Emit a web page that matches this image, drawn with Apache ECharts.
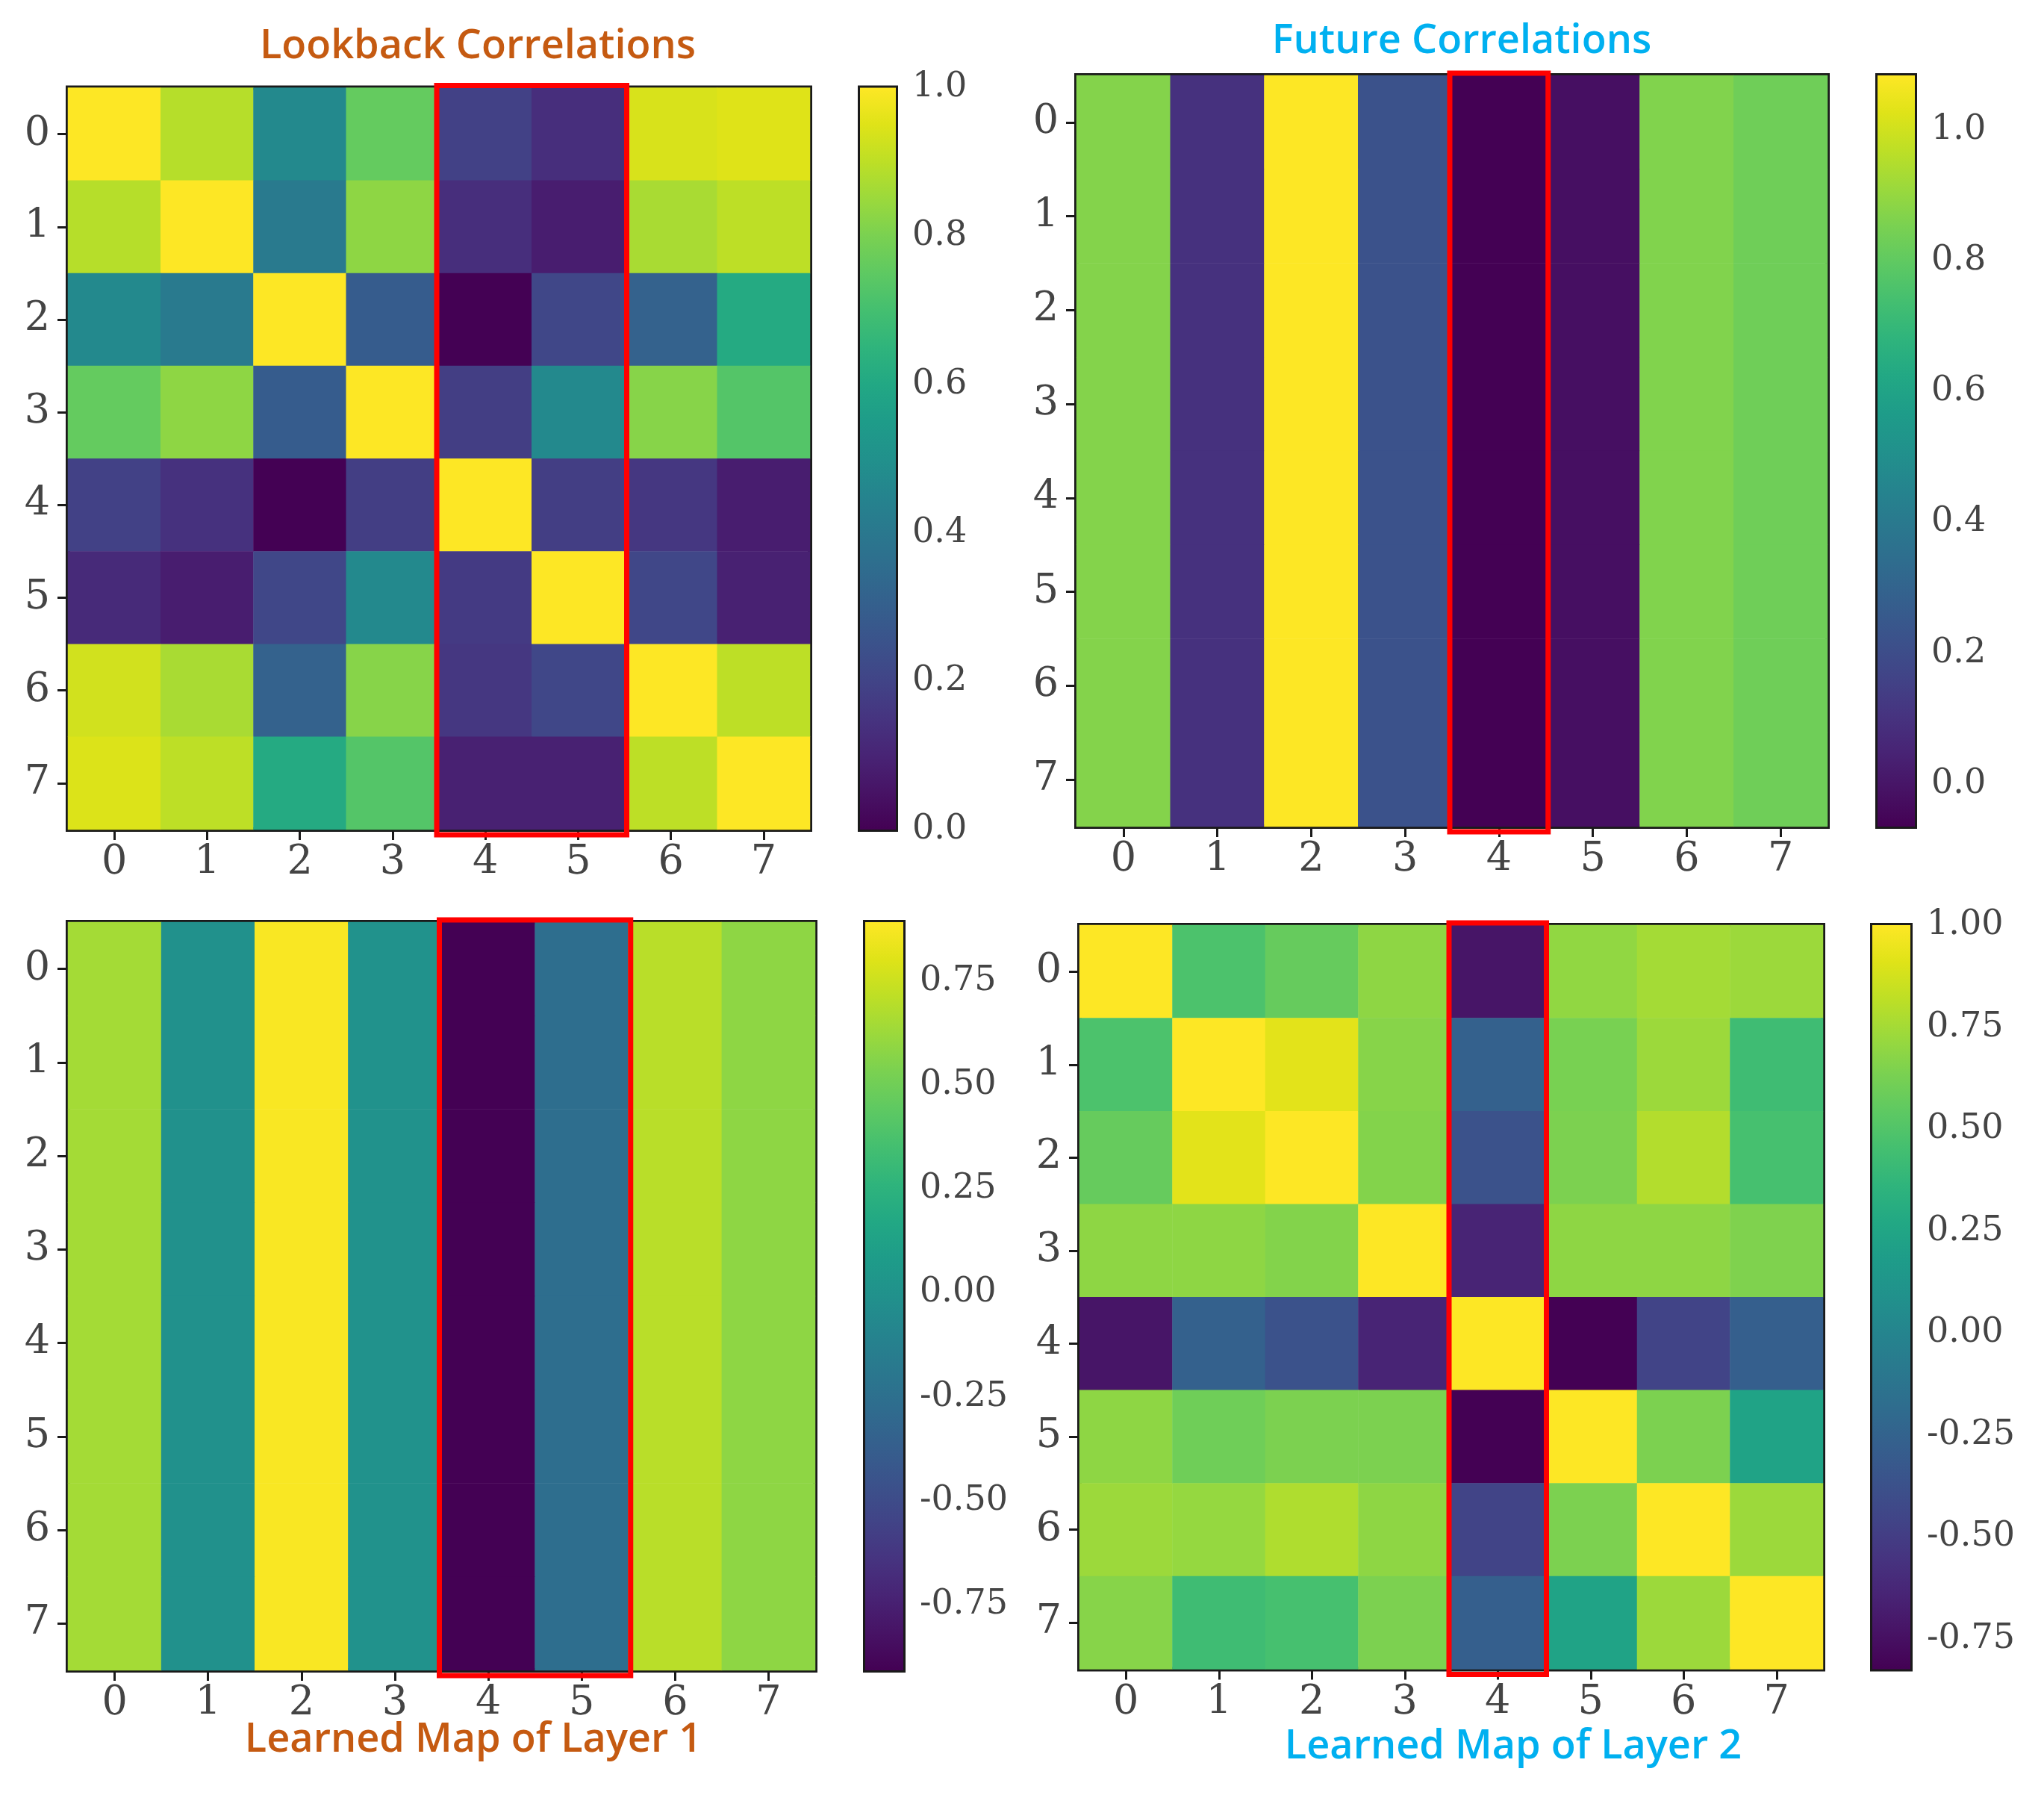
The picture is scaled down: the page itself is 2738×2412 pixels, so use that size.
<!DOCTYPE html>
<html>
<head>
<meta charset="utf-8">
<script src="https://cdn.jsdelivr.net/npm/echarts@6/dist/echarts.min.js"></script>
<style>
html,body{margin:0;padding:0;background:#fff;}
#chart{width:2738px;height:2412px;}
</style>
</head>
<body>
<div id="chart"></div>
<script>
// ---------------- data ----------------
const xCats = ['0','1','2','3','4','5','6','7'];
const yCats = ['0','1','2','3','4','5','6','7'];

const lookback = [
  [1.00, 0.89, 0.47, 0.76, 0.19, 0.13, 0.94, 0.95],
  [0.89, 1.00, 0.41, 0.83, 0.13, 0.08, 0.87, 0.90],
  [0.47, 0.41, 1.00, 0.29, 0.00, 0.21, 0.31, 0.61],
  [0.76, 0.83, 0.29, 1.00, 0.18, 0.47, 0.82, 0.73],
  [0.19, 0.14, 0.00, 0.18, 1.00, 0.18, 0.16, 0.08],
  [0.12, 0.08, 0.21, 0.47, 0.17, 1.00, 0.21, 0.09],
  [0.93, 0.87, 0.31, 0.82, 0.16, 0.21, 1.00, 0.90],
  [0.945, 0.90, 0.61, 0.73, 0.09, 0.09, 0.90, 1.00]
];
const future = [
  [0.87, 0.096, 1.083, 0.222, -0.065, -0.019, 0.865, 0.83],
  [0.87, 0.096, 1.083, 0.222, -0.065, -0.019, 0.865, 0.83],
  [0.87, 0.096, 1.083, 0.222, -0.065, -0.019, 0.865, 0.83],
  [0.87, 0.096, 1.083, 0.222, -0.065, -0.019, 0.865, 0.83],
  [0.87, 0.096, 1.083, 0.222, -0.065, -0.019, 0.865, 0.83],
  [0.87, 0.096, 1.083, 0.222, -0.065, -0.019, 0.865, 0.83],
  [0.87, 0.096, 1.083, 0.222, -0.065, -0.019, 0.865, 0.83],
  [0.87, 0.096, 1.083, 0.222, -0.065, -0.019, 0.865, 0.83]
];
const layer1 = [
  [0.645, -0.01, 0.88, 0.00, -0.907, -0.26, 0.70, 0.585],
  [0.645, -0.01, 0.88, 0.00, -0.907, -0.26, 0.70, 0.585],
  [0.645, -0.01, 0.88, 0.00, -0.907, -0.26, 0.70, 0.585],
  [0.645, -0.01, 0.88, 0.00, -0.907, -0.26, 0.70, 0.585],
  [0.645, -0.01, 0.88, 0.00, -0.907, -0.26, 0.70, 0.585],
  [0.645, -0.01, 0.88, 0.00, -0.907, -0.26, 0.70, 0.585],
  [0.645, -0.01, 0.88, 0.00, -0.907, -0.26, 0.70, 0.585],
  [0.645, -0.01, 0.88, 0.00, -0.907, -0.26, 0.70, 0.585]
];
const layer2 = [
  [1.00, 0.48, 0.57, 0.69, -0.72, 0.70, 0.75, 0.73],
  [0.48, 1.00, 0.92, 0.67, -0.26, 0.63, 0.73, 0.43],
  [0.57, 0.92, 1.00, 0.66, -0.37, 0.64, 0.79, 0.46],
  [0.69, 0.69, 0.66, 1.00, -0.64, 0.69, 0.69, 0.65],
  [-0.72, -0.26, -0.37, -0.64, 1.00, -0.824, -0.46, -0.28],
  [0.69, 0.60, 0.64, 0.64, -0.824, 1.00, 0.64, 0.23],
  [0.73, 0.71, 0.78, 0.69, -0.46, 0.64, 1.00, 0.73],
  [0.67, 0.43, 0.46, 0.64, -0.28, 0.23, 0.73, 1.00]
];

const lookbackRange = [0, 1];
const futureRange = [-0.065, 1.083];
const layer1Range = [-0.907, 0.891];
const layer2Range = [-0.824, 1.0];

const lookbackTicks = [0, 0.2, 0.4, 0.6, 0.8, 1.0];
const futureTicks = [0, 0.2, 0.4, 0.6, 0.8, 1.0];
const layer1Ticks = [-0.75, -0.5, -0.25, 0, 0.25, 0.5, 0.75];
const layer2Ticks = [-0.75, -0.5, -0.25, 0, 0.25, 0.5, 0.75, 1.0];

const lookbackCols = [4, 5];
const futureCols = [4, 4];
const layer1Cols = [4, 5];
const layer2Cols = [4, 4];

const titles = ['Lookback Correlations', 'Future Correlations', 'Learned Map of Layer 1', 'Learned Map of Layer 2'];

const VIRIDIS = ['#440154','#471365','#482475','#463480','#414487','#3b528b','#355f8d','#2f6c8e','#2a788e','#25848e','#21918c','#1e9c89','#22a884','#2fb47c','#44bf70','#5ec962','#7ad151','#9bd93c','#bddf26','#dfe318','#fde725'];

// ---------------- layout ----------------
const panels = [
  {m: lookback, r: lookbackRange, t: lookbackTicks, c: lookbackCols, dec: 1,
   grid: {left: 91, top: 117.5, width: 994, height: 993.5},
   cb: {left: 1152, top: 117.5, width: 48, height: 993.5},
   title: {x: 640, y: 63, color: '#C55A11'}},
  {m: future, r: futureRange, t: futureTicks, c: futureCols, dec: 1,
   grid: {left: 1442, top: 101, width: 1006, height: 1006},
   cb: {left: 2515, top: 101, width: 50, height: 1006},
   title: {x: 1958, y: 56, color: '#00B0F0'}},
  {m: layer1, r: layer1Range, t: layer1Ticks, c: layer1Cols, dec: 2,
   grid: {left: 91, top: 1235, width: 1001, height: 1002},
   cb: {left: 1159, top: 1235, width: 51, height: 1002},
   title: {x: 634, y: 2331, color: '#C55A11'}},
  {m: layer2, r: layer2Range, t: layer2Ticks, c: layer2Cols, dec: 2,
   grid: {left: 1446, top: 1239, width: 996, height: 996.5},
   cb: {left: 2508, top: 1239, width: 51, height: 996.5},
   title: {x: 2027, y: 2340, color: '#00B0F0'}}
];

const TICK_FONT = 'DejaVu Serif';
const LABEL_COLOR = '#444444';
const FRAME = '#1a1a1a';

const grids = [], xAxes = [], yAxes = [], series = [], visualMaps = [], graphics = [];

const stops = VIRIDIS.map((c, i) => ({offset: i / (VIRIDIS.length - 1), color: c}));

panels.forEach((p, k) => {
  const gi = grids.length;
  grids.push(Object.assign({show: true, borderColor: FRAME, borderWidth: 6, backgroundColor: 'transparent', outerBoundsMode: 'none', containLabel: false}, p.grid));
  grids.push(Object.assign({show: true, borderColor: FRAME, borderWidth: 6, backgroundColor: 'transparent', outerBoundsMode: 'none', containLabel: false}, p.cb));

  xAxes.push({
    type: 'category', data: xCats, gridIndex: gi, position: 'bottom',
    axisLine: {show: false},
    axisTick: {show: true, alignWithLabel: true, length: 14, lineStyle: {color: FRAME, width: 3}},
    axisLabel: {fontFamily: TICK_FONT, fontSize: 54, color: LABEL_COLOR, margin: 18},
    splitLine: {show: false}, splitArea: {show: false}
  });
  yAxes.push({
    type: 'category', data: yCats, gridIndex: gi, inverse: true, position: 'left',
    axisLine: {show: false},
    axisTick: {show: true, alignWithLabel: true, length: 14, lineStyle: {color: FRAME, width: 3}},
    axisLabel: {fontFamily: TICK_FONT, fontSize: 54, color: LABEL_COLOR, margin: 24},
    splitLine: {show: false}, splitArea: {show: false}
  });
  xAxes.push({type: 'value', gridIndex: gi + 1, min: 0, max: 1, show: false});
  yAxes.push({
    type: 'value', gridIndex: gi + 1, min: p.r[0], max: p.r[1], position: 'right',
    axisLine: {show: false},
    splitLine: {show: false},
    axisTick: {show: true, length: 13, customValues: p.t, lineStyle: {color: FRAME, width: 3}},
    axisLabel: {show: true, customValues: p.t, fontFamily: TICK_FONT, fontSize: 46, color: LABEL_COLOR, margin: 22,
      formatter: v => Number(v).toFixed(p.dec), showMinLabel: true, showMaxLabel: true}
  });

  const data = [];
  p.m.forEach((row, yi) => row.forEach((v, xi) => data.push([xi, yi, v])));
  const si = series.length;
  series.push({
    type: 'heatmap', xAxisIndex: gi, yAxisIndex: gi, data: data,
    itemStyle: {borderWidth: 0}, emphasis: {disabled: true}, progressive: 0, z: 2
  });
  visualMaps.push({
    type: 'continuous', show: false, min: p.r[0], max: p.r[1], seriesIndex: si, dimension: 2,
    inRange: {color: VIRIDIS}
  });
  // highlighted columns (red frame)
  series.push({
    type: 'custom', xAxisIndex: gi, yAxisIndex: gi, z: 10, silent: true,
    data: [[p.c[0], p.c[1]]],
    renderItem: function (params, api) {
      const c0 = api.value(0), c1 = api.value(1);
      const a = api.coord([c0, 0]);
      const b = api.coord([c1, yCats.length - 1]);
      const s = api.size([1, 1]);
      const pad = 3;
      const x = a[0] - s[0] / 2 - pad, y = a[1] - s[1] / 2 - pad;
      return {type: 'rect', shape: {x: x, y: y, width: b[0] + s[0] / 2 - (a[0] - s[0] / 2) + 2 * pad, height: b[1] + s[1] / 2 - (a[1] - s[1] / 2) + 2 * pad + 4},
        style: {fill: 'none', stroke: '#ff0000', lineWidth: 7}};
    }
  });
  // colorbar
  series.push({
    type: 'custom', xAxisIndex: gi + 1, yAxisIndex: gi + 1, z: 2, silent: true,
    data: [[0, p.r[0], p.r[1]]],
    renderItem: function (params, api) {
      const lo = api.coord([0, api.value(1)]);
      const hi = api.coord([1, api.value(2)]);
      return {type: 'rect', shape: {x: lo[0], y: hi[1], width: hi[0] - lo[0], height: lo[1] - hi[1]},
        style: {fill: new echarts.graphic.LinearGradient(0, 1, 0, 0, stops)}};
    }
  });

  graphics.push({
    type: 'text', x: p.title.x, y: p.title.y, z: 20,
    style: {text: titles[k], fill: p.title.color, font: '600 54px "Open Sans"', textAlign: 'center', textVerticalAlign: 'middle'}
  });
});

const chart = echarts.init(document.getElementById('chart'), null, {renderer: 'canvas'});
chart.setOption({
  backgroundColor: '#ffffff',
  animation: false,
  grid: grids,
  xAxis: xAxes,
  yAxis: yAxes,
  visualMap: visualMaps,
  series: series,
  graphic: graphics
});
</script>
</body>
</html>
